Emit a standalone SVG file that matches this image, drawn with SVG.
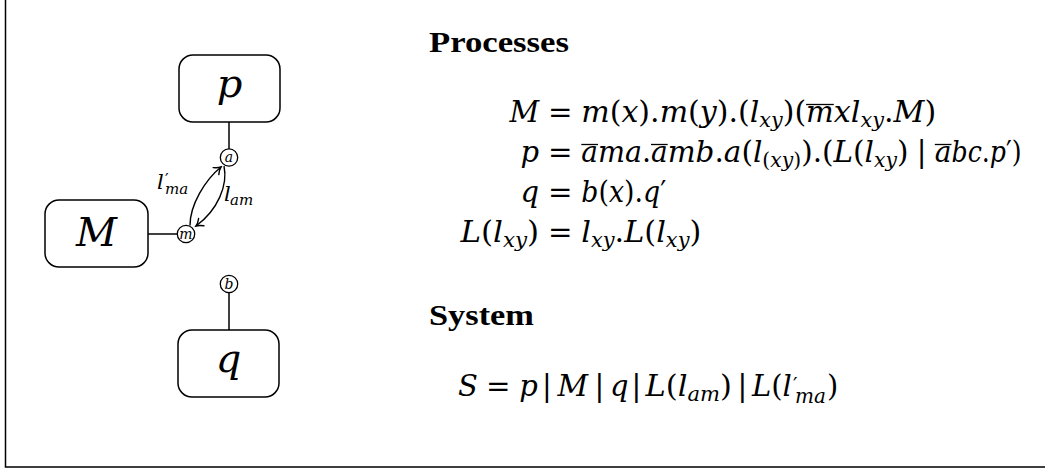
<svg xmlns="http://www.w3.org/2000/svg" width="1045" height="469" viewBox="0 0 1045 469">
<defs>
<style>
.box{fill:#fff;stroke:#000;stroke-width:1.5}
.port{fill:#fff;stroke:#000;stroke-width:1.3}
.wire{stroke:#000;stroke-width:1.5;fill:none}
.arc{stroke:#000;stroke-width:1.4;fill:none}
.ol{stroke:#000;stroke-width:1.3}
text{font-family:"DejaVu Serif","Liberation Serif",serif;fill:#000}
.mi{font-style:italic;font-size:29px}
.u{font-style:normal}
.s{font-size:20px}
.h{font-family:"Liberation Serif",serif;font-weight:bold;font-size:29px}
.big{font-style:italic;font-size:40px}
.pl{font-style:italic;font-size:14px}
.el{font-style:italic;font-size:21px}
.els{font-size:15px}
</style>
<marker id="arr" viewBox="-8 -6 10 12" markerWidth="10" markerHeight="12" refX="0" refY="0" orient="auto" markerUnits="userSpaceOnUse">
<path d="M-6.5,-4.5 C-4,-2 -1.5,-0.5 0,0 C-1.5,0.5 -4,2 -6.5,4.5" fill="none" stroke="#000" stroke-width="1.4" stroke-linecap="round"/>
</marker>
</defs>
<rect width="1045" height="469" fill="#fff"/>
<path d="M5.5,0 V467 H1045" fill="none" stroke="#000" stroke-width="1.5"/>

<g id="connectors">
<line class="wire" x1="229" y1="122" x2="229" y2="149"/>
<line class="wire" x1="148" y1="234" x2="177.5" y2="234"/>
<line class="wire" x1="229" y1="292.5" x2="229" y2="330"/>
<path class="arc" d="M190,225.5 C190,205 205,180 221,167" marker-end="url(#arr)"/>
<path class="arc" d="M224,166 C228,185 218,210 196,226" marker-end="url(#arr)"/>
<text class="el" x="157" y="189">l<tspan class="u" x="165" y="185" font-size="16">′</tspan><tspan class="els" x="165" y="194">ma</tspan></text>
<text class="el" x="224" y="201">l<tspan class="els" x="230" y="205">am</tspan></text>
</g>

<g id="node-p">
<rect class="box" x="179" y="55" width="101" height="67" rx="14"/>
<text class="big" x="229.5" y="97" text-anchor="middle">p</text>
</g>
<g id="node-M">
<rect class="box" x="45" y="200" width="103" height="67" rx="14"/>
<text class="big" x="96.5" y="246" text-anchor="middle">M</text>
</g>
<g id="node-q">
<rect class="box" x="178" y="330" width="101" height="67" rx="14"/>
<text class="big" x="228.5" y="372" text-anchor="middle">q</text>
</g>
<g id="port-a">
<circle class="port" cx="229" cy="157.5" r="8.7"/>
<text class="pl" x="229" y="162" text-anchor="middle">a</text>
</g>
<g id="port-m">
<circle class="port" cx="186" cy="234" r="8.7"/>
<text class="pl" x="186" y="238.5" text-anchor="middle">m</text>
</g>
<g id="port-b">
<circle class="port" cx="229" cy="284" r="8.7"/>
<text class="pl" x="229" y="289" text-anchor="middle">b</text>
</g>

<g id="processes">
<text class="h" x="429" y="52" textLength="140" lengthAdjust="spacingAndGlyphs">Processes</text>
<text class="mi" x="539.2" y="122" text-anchor="end">M</text>
<text class="mi u" x="548" y="122" textLength="24.5" lengthAdjust="spacingAndGlyphs">=</text>
<text class="mi" x="581.3" y="122" textLength="224.8" lengthAdjust="spacingAndGlyphs">m<tspan class="u">(</tspan>x<tspan class="u">).</tspan>m<tspan class="u">(</tspan>y<tspan class="u">).(</tspan>l<tspan class="s" dy="5">xy</tspan><tspan class="u" dy="-5">)(</tspan></text>
<text class="mi" x="806.1" y="122" textLength="27.7" lengthAdjust="spacingAndGlyphs">m</text>
<line class="ol" x1="806.1" y1="104.5" x2="833.8" y2="104.5"/>
<text class="mi" x="833.8" y="122" textLength="102.4" lengthAdjust="spacingAndGlyphs">xl<tspan class="s" dy="5">xy</tspan><tspan class="u" dy="-5">.</tspan>M<tspan class="u">)</tspan></text>
<text class="mi" x="539.2" y="162" text-anchor="end">p</text>
<text class="mi u" x="548" y="162" textLength="24.5" lengthAdjust="spacingAndGlyphs">=</text>
<text class="mi" x="581.3" y="162" textLength="16.7" lengthAdjust="spacingAndGlyphs">a</text>
<line class="ol" x1="581.3" y1="144.5" x2="598" y2="144.5"/>
<text class="mi" x="598" y="162" textLength="53.1" lengthAdjust="spacingAndGlyphs">ma<tspan class="u">.</tspan></text>
<text class="mi" x="651" y="162" textLength="16.7" lengthAdjust="spacingAndGlyphs">a</text>
<line class="ol" x1="651" y1="144.5" x2="667.7" y2="144.5"/>
<text class="mi" x="667.7" y="162" textLength="240.8" lengthAdjust="spacingAndGlyphs">mb<tspan class="u">.</tspan>a<tspan class="u">(</tspan>l<tspan class="s" dy="5"><tspan class="u">(</tspan>xy<tspan class="u">)</tspan></tspan><tspan class="u" dy="-5">).(</tspan>L<tspan class="u">(</tspan>l<tspan class="s" dy="5">xy</tspan><tspan class="u" dy="-5">)</tspan></text>
<text class="mi u" x="921.7" y="162" text-anchor="middle">|</text>
<text class="mi" x="934.8" y="162" textLength="16.7" lengthAdjust="spacingAndGlyphs">a</text>
<line class="ol" x1="934.8" y1="144.5" x2="951.5" y2="144.5"/>
<text class="mi" x="951.5" y="162" textLength="70.1" lengthAdjust="spacingAndGlyphs">bc<tspan class="u">.</tspan>p<tspan class="u">′)</tspan></text>
<text class="mi" x="539.2" y="202" text-anchor="end">q</text>
<text class="mi u" x="548" y="202" textLength="24.5" lengthAdjust="spacingAndGlyphs">=</text>
<text class="mi" x="581.3" y="202" textLength="85" lengthAdjust="spacingAndGlyphs">b<tspan class="u">(</tspan>x<tspan class="u">).</tspan>q<tspan class="u">′</tspan></text>
<text class="mi" x="460.4" y="242" textLength="78.8" lengthAdjust="spacingAndGlyphs">L<tspan class="u">(</tspan>l<tspan class="s" dy="5">xy</tspan><tspan class="u" dy="-5">)</tspan></text>
<text class="mi u" x="548" y="242" textLength="24.5" lengthAdjust="spacingAndGlyphs">=</text>
<text class="mi" x="581.3" y="242" textLength="120" lengthAdjust="spacingAndGlyphs">l<tspan class="s" dy="5">xy</tspan><tspan class="u" dy="-5">.</tspan>L<tspan class="u">(</tspan>l<tspan class="s" dy="5">xy</tspan><tspan class="u" dy="-5">)</tspan></text>
</g>

<g id="system">
<text class="h" x="429" y="325" textLength="105" lengthAdjust="spacingAndGlyphs">System</text>
<text class="mi" x="458" y="396">S</text>
<text class="mi u" x="486.1" y="396" textLength="24.5" lengthAdjust="spacingAndGlyphs">=</text>
<text class="mi" x="519.3" y="396">p</text>
<text class="mi u" x="547" y="396" text-anchor="middle">|</text>
<text class="mi" x="557.5" y="396" textLength="30.6" lengthAdjust="spacingAndGlyphs">M</text>
<text class="mi u" x="599.5" y="396" text-anchor="middle">|</text>
<text class="mi" x="610" y="396">q</text>
<text class="mi u" x="636.5" y="396" text-anchor="middle">|</text>
<text class="mi" x="645.5" y="396" textLength="86.4" lengthAdjust="spacingAndGlyphs">L<tspan class="u">(</tspan>l<tspan class="s" dy="5">am</tspan><tspan class="u" dy="-5">)</tspan></text>
<text class="mi u" x="742.5" y="396" text-anchor="middle">|</text>
<text class="mi" x="752" y="396">L<tspan class="u">(</tspan>l<tspan class="u" x="793" y="392" font-size="20px">′</tspan><tspan class="s" x="795" y="403">ma</tspan><tspan class="u" x="827" y="396">)</tspan></text>
</g>
</svg>
